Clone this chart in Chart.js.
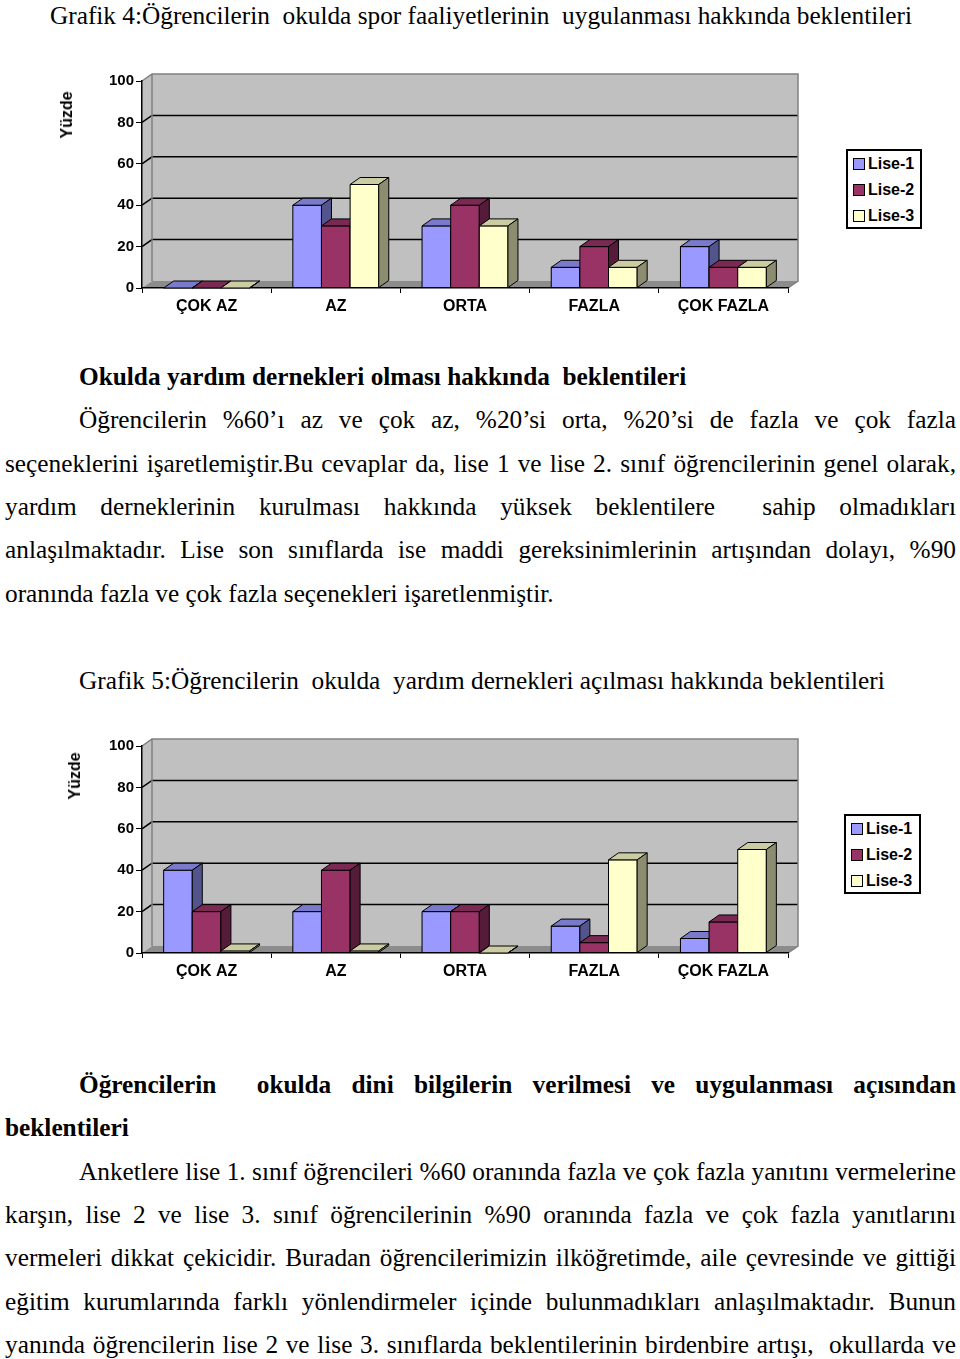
<!DOCTYPE html>
<html lang="tr">
<head>
    <meta charset="UTF-8">
    <title>Grafik 4 ve Grafik 5</title>
    <script src="https://cdn.jsdelivr.net/npm/chart.js"></script>
    <style>
        body {
            margin: 0;
            width: 960px;
            height: 1359px;
            position: relative;
            background: #fff;
            color: #000;
            font-family: "Liberation Serif", "Times New Roman", serif;
            overflow: hidden;
        }
        .line {
            position: absolute;
            font-size: 25.3px;
            line-height: 30px;
            height: 30px;
            white-space: nowrap;
        }
        .just {
            text-align: justify;
            text-align-last: justify;
        }
        .bold { font-weight: bold; }
        canvas { position: absolute; left: 0; }
        .yTitle {
            position: absolute;
            font: bold 16px "Liberation Sans", Arial, sans-serif;
            transform: translate(-50%, -50%) rotate(-90deg);
            white-space: nowrap;
        }
        .legend {
            position: absolute;
            border: 2px solid #000;
            box-sizing: border-box;
            padding: 0 0 0 5px;
            font: bold 16px "Liberation Sans", Arial, sans-serif;
            background: #fff;
        }
        .legend-item {
            height: 26px;
            line-height: 26px;
            white-space: nowrap;
        }
        .color-box {
            display: inline-block;
            width: 10px;
            height: 10px;
            border: 1px solid #000;
            margin-right: 3px;
            vertical-align: -1px;
        }
    </style>
</head>
<body>
    <div class="line" style="left:50px; top:0px;">Grafik 4:Öğrencilerin&nbsp; okulda spor faaliyetlerinin&nbsp; uygulanması hakkında beklentileri</div>

    <canvas id="chart4" width="960" height="280" style="top:50px"></canvas>
    <div class="yTitle" style="left:67px; top:115px;">Yüzde</div>
    <div class="legend" id="legend4" style="left:846px; top:149px; width:76px; height:80px;"></div>

    <div class="line bold" style="left:79px; top:361px;">Okulda yardım dernekleri olması hakkında&nbsp; beklentileri</div>
    <div class="line just" style="left:79px; width:877px; top:404px;">Öğrencilerin %60’ı az ve çok az, %20’si orta, %20’si de fazla ve çok fazla</div>
    <div class="line just" style="left:5px; width:951px; top:448px;">seçeneklerini işaretlemiştir.Bu cevaplar da, lise 1 ve lise 2. sınıf öğrencilerinin genel olarak,</div>
    <div class="line just" style="left:5px; width:951px; top:491px;">yardım derneklerinin kurulması hakkında yüksek beklentilere&nbsp; sahip olmadıkları</div>
    <div class="line just" style="left:5px; width:951px; top:534px;">anlaşılmaktadır. Lise son sınıflarda ise maddi gereksinimlerinin artışından dolayı, %90</div>
    <div class="line" style="left:5px; top:578px;">oranında fazla ve çok fazla seçenekleri işaretlenmiştir.</div>

    <div class="line" style="left:79px; top:665px;">Grafik 5:Öğrencilerin&nbsp; okulda&nbsp; yardım dernekleri açılması hakkında beklentileri</div>

    <canvas id="chart5" width="960" height="280" style="top:715px"></canvas>
    <div class="yTitle" style="left:75px; top:776px;">Yüzde</div>
    <div class="legend" id="legend5" style="left:844px; top:814px; width:77px; height:80px;"></div>

    <div class="line bold just" style="left:79px; width:877px; top:1069px;">Öğrencilerin&nbsp; okulda dini bilgilerin verilmesi ve uygulanması açısından</div>
    <div class="line bold" style="left:5px; top:1112px;">beklentileri</div>
    <div class="line just" style="left:79px; width:877px; top:1156px;">Anketlere lise 1. sınıf öğrencileri %60 oranında fazla ve çok fazla yanıtını vermelerine</div>
    <div class="line just" style="left:5px; width:951px; top:1199px;">karşın, lise 2 ve lise 3. sınıf öğrencilerinin %90 oranında fazla ve çok fazla yanıtlarını</div>
    <div class="line just" style="left:5px; width:951px; top:1242px;">vermeleri dikkat çekicidir. Buradan öğrencilerimizin ilköğretimde, aile çevresinde ve gittiği</div>
    <div class="line just" style="left:5px; width:951px; top:1286px;">eğitim kurumlarında farklı yönlendirmeler içinde bulunmadıkları anlaşılmaktadır. Bunun</div>
    <div class="line just" style="left:5px; width:951px; top:1329px;">yanında öğrencilerin lise 2 ve lise 3. sınıflarda beklentilerinin birdenbire artışı,&nbsp; okullarda ve</div>

    <script>
        const categories = ['ÇOK AZ', 'AZ', 'ORTA', 'FAZLA', 'ÇOK FAZLA'];
        const seriesNames = ['Lise-1', 'Lise-2', 'Lise-3'];
        const seriesColors = ['#9999FF', '#993366', '#FFFFCC'];
        const yTicks = [0, 20, 40, 60, 80, 100];

        // Grafik 4: spor faaliyetleri
        const sporLise1 = [0, 40, 30, 10, 20];
        const sporLise2 = [0, 30, 40, 20, 10];
        const sporLise3 = [0, 50, 30, 10, 10];

        // Grafik 5: yardım dernekleri
        const yardimLise1 = [40, 20, 20, 13, 7];
        const yardimLise2 = [20, 40, 20, 5, 15];
        const yardimLise3 = [1, 1, 0, 45, 50];

        const DX = 10, DY = 7; // depth of the 3D look
        const sansFont = '"Liberation Sans", Arial, sans-serif';

        function shade(hex, f) {
            const n = parseInt(hex.slice(1), 16);
            const r = Math.round(((n >> 16) & 255) * f);
            const g = Math.round(((n >> 8) & 255) * f);
            const b = Math.round((n & 255) * f);
            return `rgb(${r},${g},${b})`;
        }

        function poly(ctx, pts, fill, stroke, lw) {
            ctx.beginPath();
            ctx.moveTo(pts[0][0], pts[0][1]);
            for (let i = 1; i < pts.length; i++) ctx.lineTo(pts[i][0], pts[i][1]);
            ctx.closePath();
            if (fill) { ctx.fillStyle = fill; ctx.fill(); }
            if (stroke) { ctx.strokeStyle = stroke; ctx.lineWidth = lw || 1; ctx.stroke(); }
        }

        // walls, floor and gridlines behind the bars, then 3D faces of the bars
        const box3d = {
            id: 'box3d',
            beforeDraw(chart) {
                const ctx = chart.ctx;
                const a = chart.chartArea;
                const y = chart.scales.y;
                ctx.save();
                poly(ctx, [[a.left + DX, a.top - DY], [a.right + DX, a.top - DY], [a.right + DX, a.bottom - DY], [a.left + DX, a.bottom - DY]], '#C0C0C0');
                poly(ctx, [[a.left, a.top], [a.left + DX, a.top - DY], [a.left + DX, a.bottom - DY], [a.left, a.bottom]], '#C0C0C0');
                poly(ctx, [[a.left, a.bottom], [a.left + DX, a.bottom - DY], [a.right + DX, a.bottom - DY], [a.right, a.bottom]], '#8C8C8C');

                ctx.strokeStyle = '#000';
                ctx.lineWidth = 1.5;
                y.ticks.forEach(t => {
                    if (t.value <= y.min || t.value >= y.max) return;
                    const py = y.getPixelForValue(t.value);
                    ctx.beginPath();
                    ctx.moveTo(a.left, py);
                    ctx.lineTo(a.left + DX, py - DY);
                    ctx.lineTo(a.right + DX, py - DY);
                    ctx.stroke();
                });

                ctx.strokeStyle = '#808080';
                ctx.lineWidth = 1.5;
                ctx.beginPath();
                ctx.moveTo(a.left, a.top);
                ctx.lineTo(a.left + DX, a.top - DY);
                ctx.lineTo(a.right + DX, a.top - DY);
                ctx.lineTo(a.right + DX, a.bottom - DY);
                ctx.lineTo(a.right, a.bottom);
                ctx.moveTo(a.left + DX, a.top - DY);
                ctx.lineTo(a.left + DX, a.bottom - DY);
                ctx.stroke();
                ctx.restore();
            },
            afterDatasetsDraw(chart) {
                const ctx = chart.ctx;
                ctx.save();
                const n = chart.data.labels.length;
                for (let i = 0; i < n; i++) {
                    chart.data.datasets.forEach((ds, d) => {
                        const el = chart.getDatasetMeta(d).data[i];
                        const p = el.getProps(['x', 'y', 'base', 'width'], true);
                        const l = p.x - p.width / 2, r = p.x + p.width / 2;
                        const top = Math.min(p.y, p.base), bot = Math.max(p.y, p.base);
                        const c = ds.backgroundColor;
                        if (bot - top > 0.5) poly(ctx, [[l, top], [r, top], [r, bot], [l, bot]], c, '#000', 1);
                        poly(ctx, [[l, top], [l + DX, top - DY], [r + DX, top - DY], [r, top]], shade(c, 0.8), '#000', 1);
                        poly(ctx, [[r, top], [r + DX, top - DY], [r + DX, bot - DY], [r, bot]], shade(c, 0.55), '#000', 1);
                    });
                }
                ctx.restore();
            }
        };

        function makeChart(id, values) {
            const datasets = seriesNames.map((name, k) => ({
                label: name,
                data: values[k],
                backgroundColor: seriesColors[k],
                borderColor: '#000',
                borderWidth: 1,
                barPercentage: 1,
                categoryPercentage: 0.665
            }));
            return new Chart(document.getElementById(id), {
                type: 'bar',
                data: { labels: categories, datasets: datasets },
                options: {
                    responsive: false,
                    animation: false,
                    layout: { padding: { left: 102, right: 172, top: 31, bottom: 0 } },
                    plugins: { legend: { display: false }, tooltip: { enabled: false } },
                    scales: {
                        x: {
                            afterFit: s => { s.height = 42; },
                            grid: { offset: true, drawOnChartArea: false, tickLength: 5, color: '#000', lineWidth: 1 },
                            border: { color: '#000', width: 1.5 },
                            ticks: { color: '#000', padding: 4, font: { family: sansFont, size: 16, weight: 'bold' } }
                        },
                        y: {
                            min: yTicks[0],
                            max: yTicks[yTicks.length - 1],
                            afterFit: s => { s.width = 40; },
                            afterBuildTicks: s => { s.ticks = yTicks.map(v => ({ value: v })); },
                            grid: { drawOnChartArea: false, tickLength: 6, color: '#000', lineWidth: 1 },
                            border: { color: '#000', width: 1.5 },
                            ticks: { color: '#000', padding: 2, font: { family: sansFont, size: 15, weight: 'bold' } }
                        }
                    }
                },
                plugins: [box3d]
            });
        }

        function makeLegend(id) {
            const box = document.getElementById(id);
            seriesNames.forEach((name, k) => {
                const item = document.createElement('div');
                item.className = 'legend-item';
                item.innerHTML = `<span class="color-box" style="background-color:${seriesColors[k]}"></span>${name}`;
                box.appendChild(item);
            });
        }

        makeChart('chart4', [sporLise1, sporLise2, sporLise3]);
        makeChart('chart5', [yardimLise1, yardimLise2, yardimLise3]);
        makeLegend('legend4');
        makeLegend('legend5');
    </script>
</body>
</html>
